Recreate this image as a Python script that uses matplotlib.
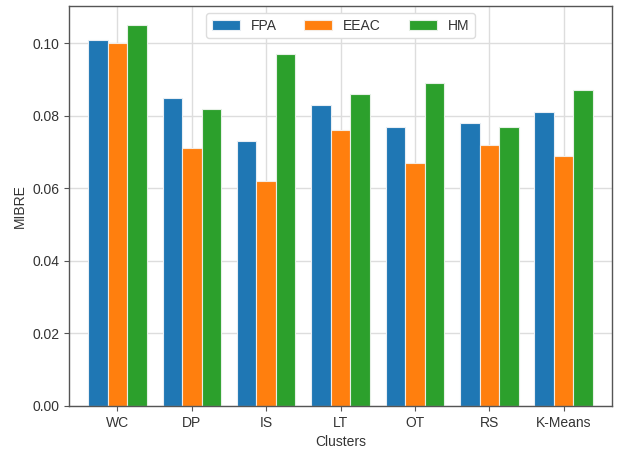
import numpy as np
import matplotlib
matplotlib.use("Agg")
import matplotlib.pyplot as plt

plt.rcParams['font.family'] = ['Liberation Sans', 'DejaVu Sans']
plt.rcParams['font.size'] = 10

clusters = ['WC', 'DP', 'IS', 'LT', 'OT', 'RS', 'K-Means']
fpa = [0.101, 0.085, 0.073, 0.083, 0.077, 0.078, 0.081]
eeac = [0.100, 0.071, 0.062, 0.076, 0.067, 0.072, 0.069]
hm = [0.105, 0.082, 0.097, 0.086, 0.089, 0.077, 0.087]

x = np.arange(len(clusters))
w = 0.262

fig = plt.figure(figsize=(6.18, 4.49), dpi=100)
ax = fig.add_axes([0.1117, 0.0958, 0.8786, 0.8908])
ax.set_axisbelow(True)
ax.grid(True, color='#dddddd', linewidth=1.0)

ax.bar(x - w, fpa, w, label='FPA', color='#1f77b4', edgecolor='#e8eef4', linewidth=0.8)
ax.bar(x, eeac, w, label='EEAC', color='#ff7f0e', edgecolor='#f4ece4', linewidth=0.8)
ax.bar(x + w, hm, w, label='HM', color='#2ca02c', edgecolor='#e6f0e6', linewidth=0.8)

ax.set_xticks(x)
ax.set_xticklabels(clusters)
ax.set_xlim(-0.65, len(clusters) - 1 + 0.65)
ax.set_ylim(0, 0.11025)
ax.set_yticks([0.0, 0.02, 0.04, 0.06, 0.08, 0.10])
ax.set_yticklabels(['0.00', '0.02', '0.04', '0.06', '0.08', '0.10'])

for s in ax.spines.values():
    s.set_color('#555555')
    s.set_linewidth(1.0)
ax.tick_params(colors='#555555', labelcolor='#333333', length=3.5, width=0.8)

ax.set_xlabel('Clusters', color='#333333', labelpad=4)
ax.set_ylabel('MIBRE', color='#333333')

leg = ax.legend(loc='upper center', ncol=3, frameon=True, fancybox=True,
                edgecolor='#dddddd', framealpha=1.0)
for t in leg.get_texts():
    t.set_color('#333333')

fig.savefig('out.png', dpi=100)
